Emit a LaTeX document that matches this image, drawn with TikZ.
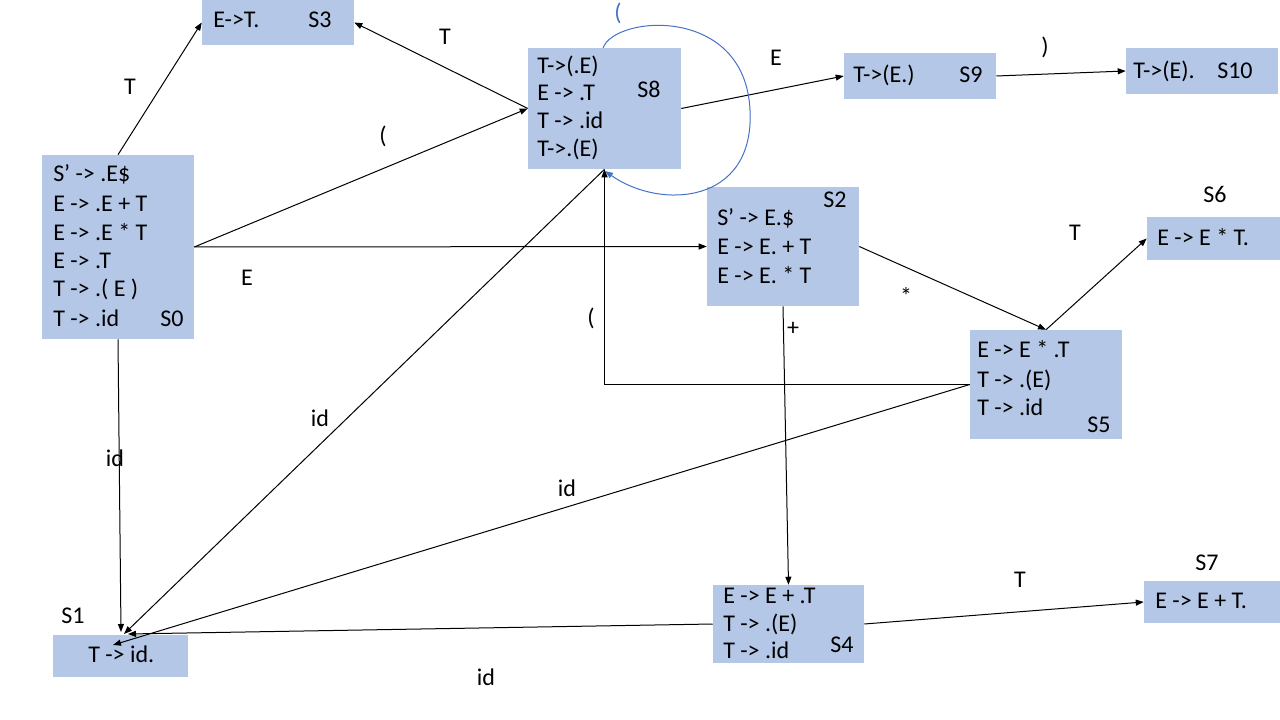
\documentclass[tikz,border=0pt]{standalone}
\usepackage{fontspec}
\setmainfont{Carlito}
\usetikzlibrary{arrows.meta,fit}
\definecolor{boxblue}{HTML}{B4C7E7}
\definecolor{loopblue}{HTML}{4472C4}
\begin{document}
\begin{tikzpicture}[x=0.75pt,y=-0.75pt,
  box/.style={fill=boxblue, draw=none, inner sep=0pt},
  txt/.style={anchor=base west, inner sep=0pt, font=\fontsize{18}{22}\selectfont},
  lbl/.style={anchor=base, inner sep=0pt, font=\fontsize{18}{22}\selectfont},
  arr/.style={draw=black, line width=0.75pt, -{Triangle[length=6pt,width=4.5pt]}},
  looparr/.style={draw=loopblue, line width=0.75pt, -{Triangle[length=6pt,width=4.5pt]}},
]
\useasboundingbox (0,0) rectangle (1280,720);

% boxes
\node[box, fit={(202,0) (354,45)}] (s3) {};
\node[box, fit={(528,48) (681,169)}] (s8) {};
\node[box, fit={(844,53) (996,99)}] (s9) {};
\node[box, fit={(1126,48) (1278,94)}] (s10) {};
\node[box, fit={(42,155) (194,339)}] (s0) {};
\node[box, fit={(707,187) (859,306)}] (s2) {};
\node[box, fit={(1147,217) (1280,260)}] (s6) {};
\node[box, fit={(970,330) (1122,439)}] (s5) {};
\node[box, fit={(713,585) (864,663)}] (s4) {};
\node[box, fit={(1144,581) (1280,623)}] (s7) {};
\node[box, fit={(53,635) (188,677)}] (s1) {};

% box texts
\node[txt] (t3a) at (213,28) {E->T.};
\node[txt] (t3n) at (308,28) {S3};

\node[txt] (t8a) at (537,74) {T->(.E)};
\node[txt] (t8b) at (537,101) {E -> .T};
\node[txt] (t8c) at (537,129) {T -> .id};
\node[txt] (t8d) at (537,157) {T->.(E)};
\node[txt] (t8n) at (637,98) {S8};

\node[txt] (t9a) at (853,83) {T->(E.)};
\node[txt] (t9n) at (959,83) {S9};

\node[txt] (t10a) at (1133,79) {T->(E).};
\node[txt] (t10n) at (1217,79) {S10};

\node[txt] (t0a) at (53,182) {S’ -> .E\$};
\node[txt] (t0b) at (53,212) {E -> .E + T};
\node[txt] (t0c) at (53,240) {E -> .E * T};
\node[txt] (t0d) at (53,268) {E -> .T};
\node[txt] (t0e) at (53,296) {T -> .( E )};
\node[txt] (t0f) at (53,326) {T -> .id};
\node[txt] (t0n) at (160,326) {S0};

\node[txt] (t2n) at (823,208) {S2};
\node[txt] (t2a) at (717,225) {S’ -> E.\$};
\node[txt] (t2b) at (717,254) {E -> E. + T};
\node[txt] (t2c) at (717,283) {E -> E. * T};

\node[txt] (t6n) at (1203,203) {S6};
\node[txt] (t6a) at (1157,245) {E -> E * T.};

\node[txt] (t5a) at (977,357) {E -> E * .T};
\node[txt] (t5b) at (977,387) {T -> .(E)};
\node[txt] (t5c) at (977,415) {T -> .id};
\node[txt] (t5n) at (1087,432) {S5};

\node[txt] (t4a) at (723,603) {E -> E + .T};
\node[txt] (t4b) at (723,631) {T -> .(E)};
\node[txt] (t4c) at (723,658) {T -> .id};
\node[txt] (t4n) at (830,652) {S4};

\node[txt] (t7n) at (1195,570) {S7};
\node[txt] (t7a) at (1155,608) {E -> E + T.};

\node[txt] (t1n) at (61,623) {S1};
\node[txt] (t1a) at (88,662) {T -> id.};

% endpoints on S1
\coordinate (e1a) at (121,632);
\coordinate (e1b) at (124,634);
\coordinate (e1c) at (128,634);
\coordinate (e1d) at (113,645);
% loop points
\coordinate (lp1) at (603,48);
\coordinate (lp2) at (750,110);
\coordinate (lp3) at (605,171);

% connectors
\draw[arr] (s0.north) -- (s3.west);
\draw[arr] (s8.west) -- (s3.east);
\draw[arr] (s0.east) -- (s8.west);
\draw[arr] (s0.east) -- (s2.west);
\draw[arr] (s8.east) -- (s9.west);
\draw[arr] (s9.east) -- (s10.west);
\draw[arr] (s2.east) -- (s5.north);
\draw[arr] (s5.north) -- (s6.west);
\draw[arr] (s2.south) -- (s4.north);
\draw[arr] (s5.west) -| (s8.south);
\draw[arr] (s5.west) -- (e1d);
\draw[arr] (s8.south) -- (e1b);
\draw[arr] (s0.south) -- (e1a);
\draw[arr] (s4.west) -- (e1c);
\draw[arr] (s4.east) -- (s7.west);
\draw[looparr] (lp1) .. controls (615,15) and (745,5) .. (lp2)
  .. controls (755,205) and (660,210) .. (lp3);

% edge labels
\node[lbl] (l1) at (130,95) {T};
\node[lbl] (l2) at (445,45) {T};
\node[lbl] (l3) at (383,144) {(};
\node[lbl] (l4) at (247,285) {E};
\node[lbl] (l5) at (776,66) {E};
\node[lbl] (l6) at (1045,55) {)};
\node[lbl, text=loopblue] (l7) at (618,21) {(};
\node[lbl] (l8) at (906,304) {*};
\node[lbl] (l9) at (1075,240) {T};
\node[lbl] (l10) at (793,335) {+};
\node[lbl] (l11) at (591,325) {(};
\node[lbl] (l12) at (320,426) {id};
\node[lbl] (l13) at (115,466) {id};
\node[lbl] (l14) at (567,496) {id};
\node[lbl] (l15) at (486,685) {id};
\node[lbl] (l16) at (1020,587) {T};
\end{tikzpicture}
\end{document}
